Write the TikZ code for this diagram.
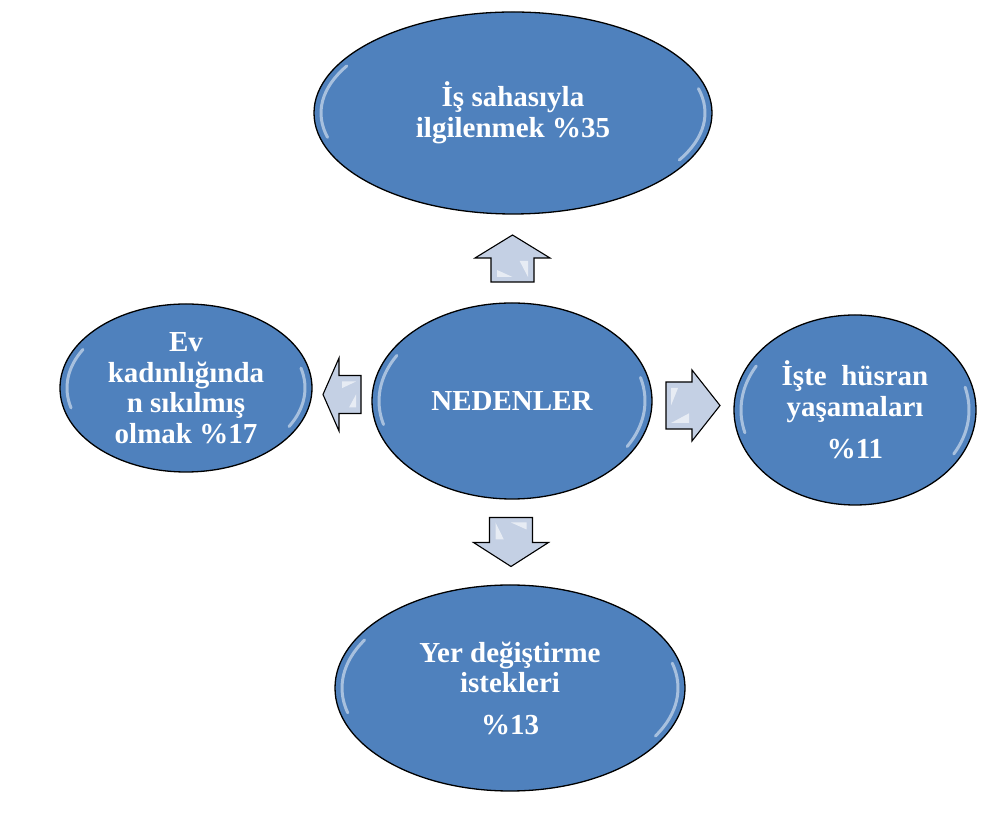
\documentclass[tikz,border=0pt]{standalone}
\usepackage{fontspec}
\setmainfont{Liberation Serif}
\usetikzlibrary{calc,shapes.geometric}

\definecolor{nodeblue}{HTML}{4F81BD}
\definecolor{arrowfill}{HTML}{C4D0E4}

\tikzset{
  reason/.style = {draw=black, line width=1.3pt, ellipse, fill=nodeblue, text=white,
    align=center, inner sep=0pt, font=\fontsize{29}{30.5}\selectfont\bfseries},
  gloss/.style = {white, opacity=.5, line width=3pt, line cap=round},
  pics/blockarrow/.style args = {#1/#2/#3/#4}{code={
    \draw[fill=arrowfill, line width=1.1pt, line join=miter]
      (-#1/2,-#3) -- (#1/2-#2,-#3) -- (#1/2-#2,-#4) -- (#1/2,0)
      -- (#1/2-#2,#4) -- (#1/2-#2,#3) -- (-#1/2,#3) -- cycle;
    \fill[white, opacity=.6] (-#1/2+5,-#3+6) -- (#1/2-#2-3,-#3+6) -- (#1/2-#2-3,-#3/3) -- cycle;
    \fill[white, opacity=.6] (-#1/2+5,#3-6) -- (-#1/2+12,#3-6) -- (-#1/2+5,0) -- cycle;
  }}
}

\begin{document}
\begin{tikzpicture}[x=1pt, y=1pt]
  \fill[white] (0,0) rectangle (985,824);
  \useasboundingbox (0,0) rectangle (985,824);

  % ellipses
  \node[reason, minimum width=280pt, minimum height=196pt] (mid) at (512,423) {NEDENLER};
  \node[reason, minimum width=398pt, minimum height=202pt] (top) at (513,711)
    {İş sahasıyla\\ilgilenmek \%35};
  \node[reason, minimum width=252pt, minimum height=168pt] (left) at (186,436)
    {Ev\\kadınlığında\\n sıkılmış\\olmak \%17};
  \node[reason, minimum width=242pt, minimum height=190pt] (right) at (855,414)
    {İşte~ hüsran\\yaşamaları\\[12pt]\%11};
  \node[reason, minimum width=350pt, minimum height=206pt] (bottom) at (510,136)
    {Yer değiştirme\\istekleri\\[11pt]\%13};

  % highlights
  \foreach \n/\rx/\ry in {mid/140/98, top/199/101, left/126/84, right/121/95, bottom/175/103} {
    \draw[gloss] ($(\n.center)+({(\rx-7)*cos(150)},{(\ry-7)*sin(150)})$)
      arc[start angle=150, end angle=195, x radius=\rx-7, y radius=\ry-7];
    \draw[gloss] ($(\n.center)+({(\rx-7)*cos(-30)},{(\ry-7)*sin(-30)})$)
      arc[start angle=-30, end angle=15, x radius=\rx-7, y radius=\ry-7];
  }

  % block arrows
  \pic[rotate=90] at ($(mid.north)!0.5!(top.south)$) {blockarrow=47/23/21.5/37.5};
  \pic[rotate=180] at ($(mid.west)!0.5!(left.east)$) {blockarrow=38/16/19/36.5};
  \pic at ($(mid.east)!0.5!(right.west)$) {blockarrow=54/28/23.5/35.5};
  \pic[rotate=270] at ($(mid.south)!0.5!(bottom.north)$) {blockarrow=49/24/21.5/37.5};
\end{tikzpicture}
\end{document}
